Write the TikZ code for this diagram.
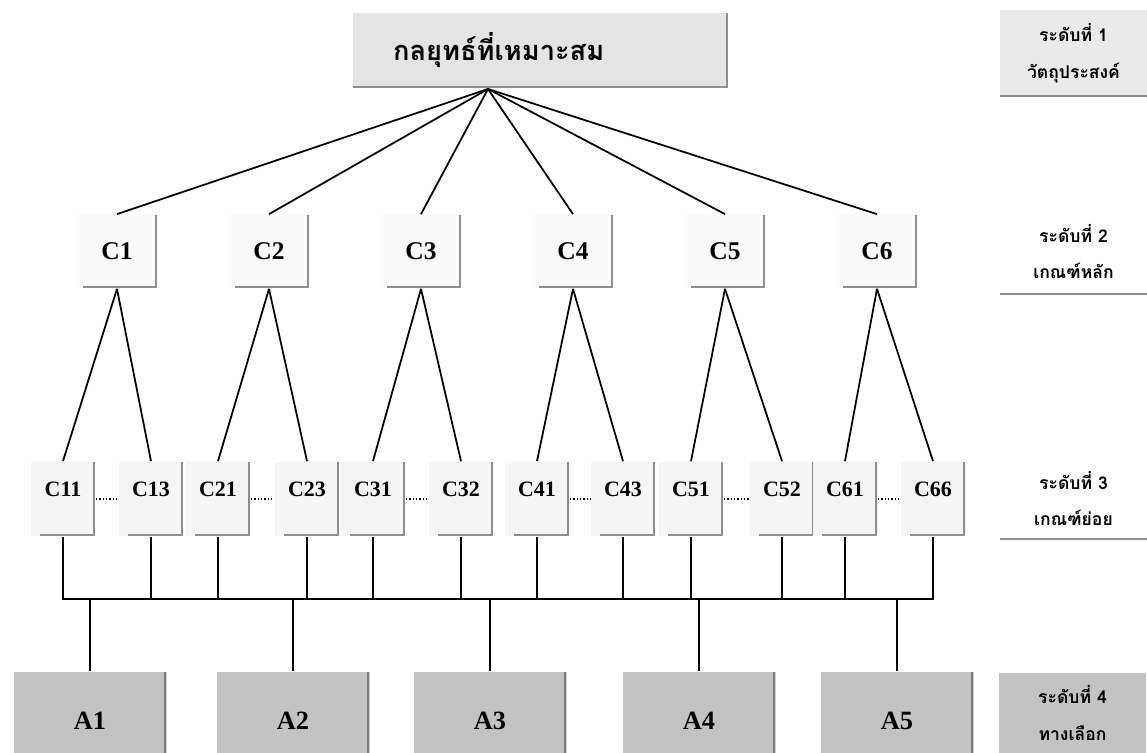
\documentclass[tikz,border=0pt]{standalone}
\usepackage{fontspec}
\setmainfont{Liberation Serif}
\newfontfamily\thaifont[Script=Thai]{Loma}
\usepackage{tikz}

\definecolor{topgray}{HTML}{E4E4E4}
\definecolor{altgray}{HTML}{C3C3C3}
\definecolor{lvlgray}{HTML}{EAEAEA}
\definecolor{edgegray}{HTML}{8E8E8E}
\definecolor{altedge}{HTML}{7A7A7A}

\begin{document}
\begin{tikzpicture}[x=0.02cm,y=-0.02cm,line width=1pt,
    rb/.style={path picture={\draw[line width=2.4pt,edgegray]
      (path picture bounding box.north east) -- (path picture bounding box.south east)
      -- ([xshift=#1]path picture bounding box.south west);}},
    goal node/.style={fill=topgray,rb=0pt,minimum height=1.5cm,inner xsep=0.8cm,
      text width=5.9cm,align=left,font=\thaifont\bfseries\fontsize{15.5}{18}\selectfont},
    crit node/.style={fill=white!98!black,rb=0.12cm,anchor=base,minimum width=1.6cm,
      inner sep=0pt,text height=0.9cm,text depth=0.56cm,font=\bfseries\fontsize{14.5}{16}\selectfont},
    sub node/.style={fill=white!96!black,rb=0.18cm,anchor=base,minimum width=1.28cm,
      inner sep=0pt,text height=0.7cm,text depth=0.78cm,font=\bfseries\fontsize{12.5}{14}\selectfont},
    alt node/.style={fill=altgray,anchor=base,minimum width=3.06cm,inner sep=0pt,
      text height=1.15cm,text depth=0.6cm,font=\bfseries\fontsize{15}{17}\selectfont,
      path picture={\draw[line width=2.4pt,altedge] (path picture bounding box.north east)
      -- (path picture bounding box.south east);}},
    level node/.style={minimum width=2.94cm,inner sep=0pt,align=center,
      font=\thaifont\bfseries\fontsize{10}{21}\selectfont,
      path picture={\draw[line width=2.4pt,edgegray] (path picture bounding box.south west)
      -- (path picture bounding box.south east);}},
    dots/.style={densely dotted,line width=0.9pt}]

  \useasboundingbox (0,0) rectangle (1147,753);

  % level 1
  \node[goal node] (goal) at (540.5,50.5) {กลยุทธ์ที่เหมาะสม};
  \coordinate (apex) at (488,89);

  % level 2
  \node[crit node] (C1) at (117,260) {C1};
  \node[crit node] (C2) at (269,260) {C2};
  \node[crit node] (C3) at (421,260) {C3};
  \node[crit node] (C4) at (573,260) {C4};
  \node[crit node] (C5) at (725,260) {C5};
  \node[crit node] (C6) at (877,260) {C6};

  % level 3
  \node[sub node] (C11) at (63,497) {C11};
  \node[sub node] (C13) at (151,497) {C13};
  \node[sub node] (C21) at (218,497) {C21};
  \node[sub node] (C23) at (307,497) {C23};
  \node[sub node] (C31) at (373,497) {C31};
  \node[sub node] (C32) at (461,497) {C32};
  \node[sub node] (C41) at (537,497) {C41};
  \node[sub node] (C43) at (623,497) {C43};
  \node[sub node] (C51) at (691,497) {C51};
  \node[sub node] (C52) at (782,497) {C52};
  \node[sub node] (C61) at (845,497) {C61};
  \node[sub node] (C66) at (933,497) {C66};

  % level 4
  \node[alt node] (A1) at (90,729) {A1};
  \node[alt node] (A2) at (293,729) {A2};
  \node[alt node] (A3) at (490,729) {A3};
  \node[alt node] (A4) at (699,729) {A4};
  \node[alt node] (A5) at (897,729) {A5};

  % level captions
  \node[level node,fill=lvlgray,minimum height=1.74cm] (L1) at (1073.5,53.5) {ระดับที่ 1\\วัตถุประสงค์};
  \node[level node,minimum height=1.74cm] (L2) at (1073.5,251.5) {ระดับที่ 2\\เกณฑ์หลัก};
  \node[level node,minimum height=1.66cm] (L3) at (1073.5,498.5) {ระดับที่ 3\\เกณฑ์ย่อย};
  \node[level node,fill=altgray,path picture={},minimum height=1.6cm] (L4) at (1072.5,713) {ระดับที่ 4\\ทางเลือก};

  \foreach \c in {C1,C2,C3,C4,C5,C6}
    \draw (apex) -- (\c.north);

  \draw (C1.south) -- (C11.north);
  \draw (C1.south) -- (C13.north);
  \draw (C2.south) -- (C21.north);
  \draw (C2.south) -- (C23.north);
  \draw (C3.south) -- (C31.north);
  \draw (C3.south) -- (C32.north);
  \draw (C4.south) -- (C41.north);
  \draw (C4.south) -- (C43.north);
  \draw (C5.south) -- (C51.north);
  \draw (C5.south) -- (C52.north);
  \draw (C6.south) -- (C61.north);
  \draw (C6.south) -- (C66.north);

  \draw[dots] (C11.east) -- (C13.west);
  \draw[dots] (C21.east) -- (C23.west);
  \draw[dots] (C31.east) -- (C32.west);
  \draw[dots] (C41.east) -- (C43.west);
  \draw[dots] (C51.east) -- (C52.west);
  \draw[dots] (C61.east) -- (C66.west);

  % bus
  \coordinate (bus) at (0,599);
  \draw (C11.south) -- (C11.south |- bus) -- (C66.south |- bus) -- (C66.south);
  \foreach \c in {C13,C21,C23,C31,C32,C41,C43,C51,C52,C61}
    \draw (\c.south) -- (\c.south |- bus);
  \foreach \a in {A1,A2,A3,A4,A5}
    \draw (\a.north |- bus) -- (\a.north);

\end{tikzpicture}
\end{document}
